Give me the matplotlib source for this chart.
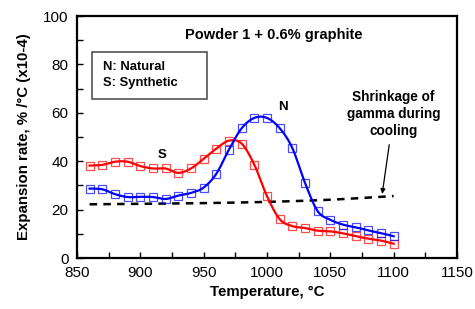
import numpy as np
import matplotlib
matplotlib.use("Agg")
import matplotlib.pyplot as plt
from matplotlib.patches import Rectangle
from matplotlib.ticker import MultipleLocator

plt.rcParams['font.family'] = ['Liberation Sans', 'DejaVu Sans']

temps = [860, 870, 880, 890, 900, 910, 920, 930, 940, 950, 960, 970, 980,
         990, 1000, 1010, 1020, 1030, 1040, 1050, 1060, 1070, 1080, 1090, 1100]
synthetic = [38.2, 38.5, 39.8, 39.8, 38.0, 37.0, 37.0, 35.2, 37.0, 41.0, 45.2, 48.5, 47.3,
             38.6, 25.6, 16.1, 13.2, 12.4, 11.3, 11.0, 10.2, 9.0, 8.0, 7.2, 5.9]
natural = [28.7, 28.4, 26.4, 25.2, 25.3, 25.2, 24.4, 25.8, 26.9, 29.1, 34.8, 44.8, 53.6,
           57.9, 57.9, 53.7, 45.5, 31.1, 19.4, 15.8, 13.8, 12.7, 11.4, 10.3, 9.0]
gamma_t = [860, 900, 950, 1000, 1050, 1100]
gamma = [22.2, 22.4, 22.7, 23.2, 24.1, 25.6]


def smooth(x, y, n=20):
    # Catmull-Rom curve through the points, like Excel's smoothed line
    x = np.asarray(x, float)
    y = np.asarray(y, float)
    px = np.concatenate([[2 * x[0] - x[1]], x, [2 * x[-1] - x[-2]]])
    py = np.concatenate([[2 * y[0] - y[1]], y, [2 * y[-1] - y[-2]]])
    t = np.linspace(0, 1, n, endpoint=False)
    xs, ys = [], []
    for i in range(1, len(px) - 2):
        for p, out in ((px, xs), (py, ys)):
            p0, p1, p2, p3 = p[i - 1], p[i], p[i + 1], p[i + 2]
            out.append(0.5 * (2 * p1 + (-p0 + p2) * t
                              + (2 * p0 - 5 * p1 + 4 * p2 - p3) * t ** 2
                              + (-p0 + 3 * p1 - 3 * p2 + p3) * t ** 3))
    xs.append([x[-1]])
    ys.append([y[-1]])
    return np.concatenate(xs), np.concatenate(ys)


fig = plt.figure(figsize=(4.75, 3.09), dpi=100)
ax = fig.add_axes([0.162, 0.165, 0.800, 0.783])

ax.plot(*smooth(gamma_t, gamma), color='black', lw=1.8, ls=(0, (3, 2.5)))

for vals, col in ((synthetic, '#ff0000'), (natural, '#0000ff')):
    sx, sy = smooth(temps, vals)
    ax.plot(sx, sy, color=col, lw=1.6)
    ax.plot(temps, vals, ls='none', marker='s', ms=5.3, mfc='none',
            mec=col, mew=0.9, alpha=0.7)

ax.set_xlim(850, 1150)
ax.set_ylim(0, 100)
ax.xaxis.set_major_locator(MultipleLocator(50))
ax.xaxis.set_minor_locator(MultipleLocator(25))
ax.yaxis.set_major_locator(MultipleLocator(20))
ax.yaxis.set_minor_locator(MultipleLocator(10))
ax.tick_params(which='both', direction='in', top=False, right=False, width=1,
               labelsize=11, pad=6, length=4)
for s in ax.spines.values():
    s.set_linewidth(1.6)

ax.set_xlabel('Temperature, °C', fontsize=10.8, fontweight='bold', labelpad=3)
ax.set_ylabel('Expansion rate, % /°C (x10-4)', fontsize=10.8, fontweight='bold', labelpad=9)

ax.text(1005, 92, 'Powder 1 + 0.6% graphite', fontsize=10.5, fontweight='bold',
        ha='center', va='center')
ax.add_patch(Rectangle((862, 65.7), 90.6, 19.4, fc='white', ec='#444444', lw=1.1, zorder=3))
ax.text(870.5, 79, 'N: Natural', fontsize=9.4, fontweight='bold', ha='left', va='center', zorder=4)
ax.text(870.5, 72.2, 'S: Synthetic', fontsize=9.4, fontweight='bold', ha='left', va='center', zorder=4)
ax.text(1013, 62.5, 'N', fontsize=9.5, fontweight='bold', ha='center', va='center')
ax.text(917, 42.5, 'S', fontsize=9.5, fontweight='bold', ha='center', va='center')
ax.annotate('Shrinkage of\ngamma during\ncooling', xy=(1091, 26.5), xytext=(1100, 59.5),
            fontsize=9.8, fontweight='bold', ha='center', va='center', linespacing=1.25,
            arrowprops=dict(arrowstyle='-|>', color='black', lw=0.9,
                            mutation_scale=7, shrinkA=3, shrinkB=0))

fig.savefig('out.png', dpi=100)
